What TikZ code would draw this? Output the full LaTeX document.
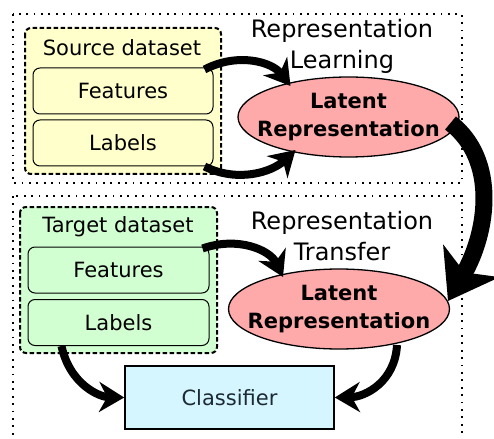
\documentclass[tikz,border=0pt]{standalone}
\usepackage{fontspec}
\setmainfont{DejaVu Sans}
\usetikzlibrary{arrows.meta,shapes.geometric,calc}
\definecolor{srcfill}{HTML}{FFFFCC}
\definecolor{tgtfill}{HTML}{D2FFD2}
\definecolor{latfill}{HTML}{FFAAAA}
\definecolor{clsfill}{HTML}{D5F6FF}
\definecolor{clstext}{HTML}{1C2A33}
\tikzset{
  outerbox/.style={draw, line width=1.8pt, dash pattern=on 1.8pt off 5.6pt},
  groupbox/.style={draw, line width=2pt, dash pattern=on 4.5pt off 2.5pt, rounded corners=6pt},
  itembox/.style={draw, line width=1pt, rounded corners=7pt, minimum width=180pt, minimum height=46pt, inner sep=0pt, font=\fontsize{21}{25}\selectfont},
  latent/.style={draw, ellipse, fill=latfill, line width=1.3pt, minimum width=221pt, minimum height=80pt, inner sep=0pt},
  latenttext/.style={align=center, inner sep=0pt, font=\fontsize{21}{28}\selectfont\bfseries},
  titletext/.style={align=center, font=\fontsize{24}{31}\selectfont},
  grouptitle/.style={font=\fontsize{21}{25}\selectfont},
  thinarrow/.style={line width=8pt, -{Stealth[length=25pt,width=30pt,inset=8pt]}},
  bigarrow/.style={line width=17pt, -{Stealth[length=46pt,width=64pt,inset=13pt]}},
}
\begin{document}
\begin{tikzpicture}[x=1pt,y=-1pt]
\clip (0,0) rectangle (494,438);
\fill[white] (0,0) rectangle (494,438);
% outer dotted frames
\draw[outerbox] (13,14) rectangle (462,183);
\draw[outerbox] (13,196) rectangle (462,460);
% titles
\node[titletext] (tl) at (342,46) {Representation\\Learning};
\node[titletext] (tt) at (342,236) {Representation\\Transfer};
% source dataset
\draw[groupbox, fill=srcfill] (25,28) rectangle (221,174);
\node[grouptitle] (st) at (122,48) {Source dataset};
\node[itembox, fill=srcfill] (sf) at (123,91) {Features};
\node[itembox, fill=srcfill] (sl) at (123,143) {Labels};
% target dataset
\draw[groupbox, fill=tgtfill] (20,207) rectangle (217,353);
\node[grouptitle] (tg) at (118,227) {Target dataset};
\node[itembox, fill=tgtfill, minimum width=181pt] (tf) at (118.5,270) {Features};
\node[itembox, fill=tgtfill, minimum width=181pt] (tlb) at (118.5,322.5) {Labels};
% latent representations
\node[latent] (l1) at (348.5,117) {};
\node[latenttext] (l1t) at (l1.center) {Latent\\Representation};
\node[latent] (l2) at (339,309) {};
\node[latenttext] (l2t) at (l2.center) {Latent\\Representation};
% classifier
\node[draw, line width=1.6pt, fill=clsfill, minimum width=209pt, minimum height=63pt, inner sep=0pt, text=clstext, font=\fontsize{21}{25}\selectfont] (cl) at (229.5,397.5) {Classifier};
% arrows
\draw[thinarrow] ($(sf.north east)+(-9,2)$) .. controls (238,52) and (272,62) .. ($(l1.center)+(-58,-31)$);
\draw[thinarrow] ($(sl.south east)+(-9,0)$) .. controls (238,183) and (272,172) .. ($(l1.center)+(-53,33)$);
\draw[bigarrow] ($(l1.center)+(102,6)$) .. controls (498,160) and (488,232) .. ($(l2.center)+(109,-8)$);
\draw[thinarrow] ($(tf.north east)+(-7,2)$) .. controls (238,236) and (270,250) .. ($(l2.center)+(-56,-32)$);
\draw[thinarrow] ($(tlb.south west)+(34,0)$) .. controls (70,385) and (100,397) .. (cl.west);
\draw[thinarrow] ($(l2.center)+(58,36)$) .. controls (395,382) and (365,397) .. (cl.east);
\end{tikzpicture}
\end{document}
